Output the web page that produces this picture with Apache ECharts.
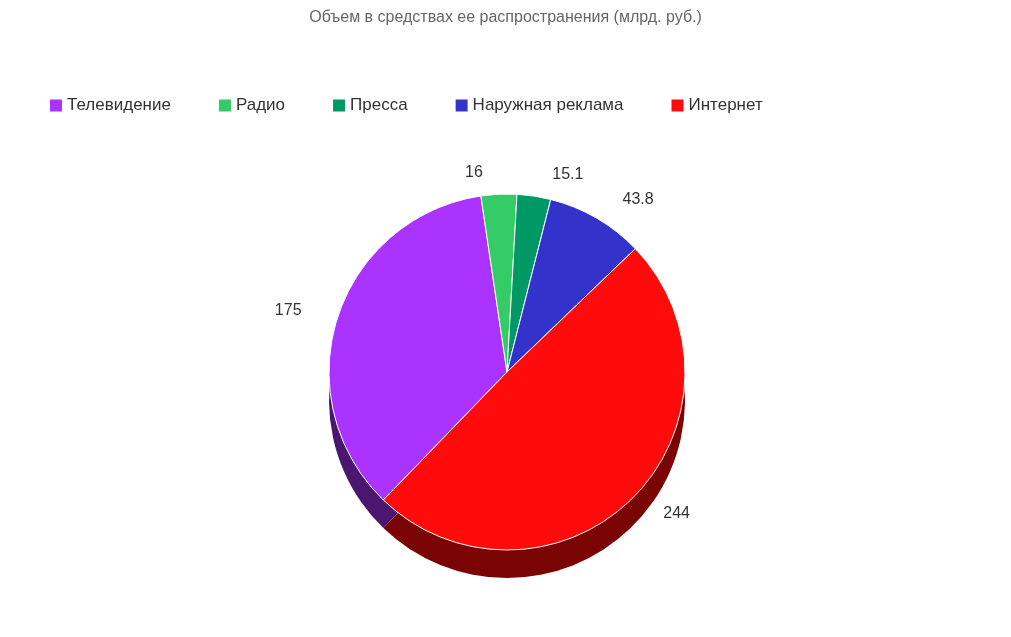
<!DOCTYPE html><html><head><meta charset="utf-8">
<script src="https://cdn.jsdelivr.net/npm/echarts@6/dist/echarts.min.js"></script>
<style>html,body{margin:0;background:#fff}#c{width:1011px;height:637px}</style></head><body><div id="c"></div><script>
const categories=['Телевидение','Радио','Пресса','Наружная реклама','Интернет'];
const values=[175,16,15.1,43.8,244];
const colors=['#aa33ff','#33cc66','#009966','#3333cc','#ff0b0b'];
const sideColors=['#4a1670','#165c2d','#004430','#16165c','#7a0404'];
const chart=echarts.init(document.getElementById('c'));
const data=categories.map((n,i)=>({name:n,value:values[i],itemStyle:{color:colors[i]}}));
const side=categories.map((n,i)=>({name:n,value:values[i],itemStyle:{color:sideColors[i]}}));
chart.setOption({
 title:{text:'Объем в средствах ее распространения (млрд. руб.)',left:'center',top:5,textStyle:{fontFamily:'Arial',fontSize:16,fontWeight:'normal',color:'#666'}},
 legend:{top:92,left:45,itemGap:48,icon:'rect',itemWidth:12,itemHeight:12,textStyle:{fontFamily:'Arial',fontSize:17,color:'#333'},
  data:categories.map((n,i)=>({name:n,itemStyle:{color:colors[i]}}))},
 series:[
  {type:'pie',silent:true,center:[507,400],radius:[0,178],startAngle:226,data:side,label:{show:false},labelLine:{show:false},z:1,animation:false},
  {type:'pie',center:[507,372],radius:[0,178],startAngle:226,data:data,z:2,animation:false,
   itemStyle:{borderColor:'#ffffff',borderWidth:1},
   label:{show:true,formatter:'{c}',fontFamily:'Arial',fontSize:16,color:'#333'},
   labelLine:{show:true,length:22,length2:10,lineStyle:{opacity:0}}}
 ]
});
</script></body></html>
